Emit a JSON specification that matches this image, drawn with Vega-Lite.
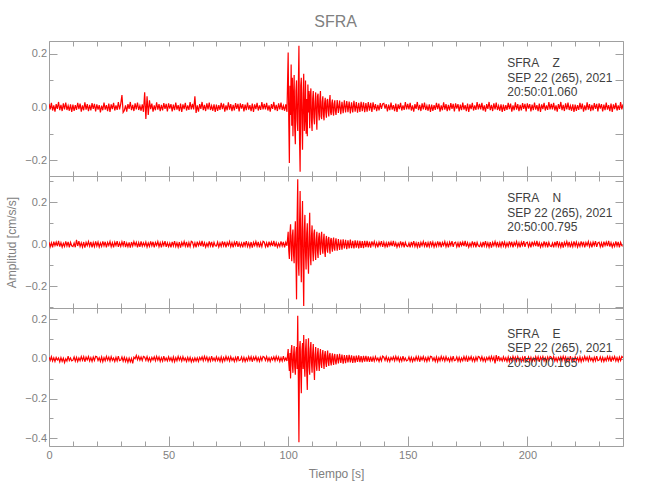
{
"$schema": "https://vega.github.io/schema/vega-lite/v6.json",
"background": "white",
"padding": {"left": 5, "top": 13, "right": 5, "bottom": 5},
"title": {"text": "SFRA", "font": "Liberation Sans", "fontSize": 16, "fontWeight": "normal", "color": "#808080", "anchor": "middle", "offset": 11, "dx": 21},
"config": {
  "view": {"stroke": null},
  "axis": {"grid": false, "domainColor": "#a0a0a0", "tickColor": "#a0a0a0", "labelColor": "#808080", "titleColor": "#808080", "labelFont": "Liberation Sans", "titleFont": "Liberation Sans", "labelFontSize": 11, "titleFontSize": 12, "titleFontWeight": "normal", "labelOverlap": false, "labelFlush": false}
},
"data": {"values": [
{"t":0,"z":0.012,"n":0.01,"e":0.009},{"t":0.5,"z":-0.009,"n":-0.012,"e":-0.007},{"t":1,"z":0.016,"n":0.007,"e":0.012},{"t":1.5,"z":-0.013,"n":-0.015,"e":-0.01},{"t":2,"z":0.006,"n":0.013,"e":0.006},{"t":2.5,"z":-0.017,"n":-0.006,"e":-0.013},{"t":3,"z":0.011,"n":0.011,"e":0.008},{"t":3.5,"z":-0.007,"n":-0.009,"e":-0.005},{"t":4,"z":0.019,"n":0.016,"e":0.005},{"t":4.5,"z":-0.012,"n":-0.011,"e":-0.015},
{"t":5,"z":0.008,"n":0.008,"e":0.007},{"t":5.5,"z":-0.015,"n":-0.013,"e":-0.012},{"t":6,"z":0.014,"n":0.005,"e":0.004},{"t":6.5,"z":-0.009,"n":-0.01,"e":-0.018},{"t":7,"z":0.017,"n":0.014,"e":0.001},{"t":7.5,"z":-0.011,"n":-0.008,"e":-0.011},{"t":8,"z":0.005,"n":0.012,"e":0.014},{"t":8.5,"z":-0.014,"n":-0.014,"e":-0.008},{"t":9,"z":0.01,"n":0.009,"e":0.005},{"t":9.5,"z":-0.018,"n":-0.007,"e":-0.01},
{"t":10,"z":0.009,"n":-0.011,"e":-0.006},{"t":10.5,"z":-0.014,"n":0.006,"e":0.01},{"t":11,"z":0.007,"n":-0.014,"e":-0.011},{"t":11.5,"z":-0.011,"n":0.021,"e":0.008},{"t":12,"z":0.016,"n":-0.008,"e":-0.013},{"t":12.5,"z":-0.008,"n":0.015,"e":0.005},{"t":13,"z":0.013,"n":-0.01,"e":-0.009},{"t":13.5,"z":-0.017,"n":0.007,"e":0.012},{"t":14,"z":0.006,"n":-0.013,"e":-0.007},{"t":14.5,"z":-0.012,"n":0.011,"e":0.011},
{"t":15,"z":0.018,"n":-0.016,"e":-0.014},{"t":15.5,"z":-0.01,"n":0.009,"e":0.009},{"t":16,"z":0.011,"n":-0.006,"e":-0.005},{"t":16.5,"z":-0.015,"n":0.013,"e":0.012},{"t":17,"z":0.008,"n":-0.009,"e":-0.01},{"t":17.5,"z":-0.013,"n":0.012,"e":0.007},{"t":18,"z":0.015,"n":-0.015,"e":-0.012},{"t":18.5,"z":-0.007,"n":0.008,"e":0.01},{"t":19,"z":0.012,"n":-0.011,"e":-0.008},{"t":19.5,"z":-0.016,"n":0.014,"e":0.013},
{"t":20,"z":0.01,"n":-0.008,"e":0.011},{"t":20.5,"z":-0.01,"n":0.011,"e":-0.008},{"t":21,"z":0.007,"n":-0.013,"e":0.006},{"t":21.5,"z":-0.02,"n":0.006,"e":-0.012},{"t":22,"z":0.005,"n":-0.01,"e":0.01},{"t":22.5,"z":-0.012,"n":0.014,"e":-0.014},{"t":23,"z":0.017,"n":-0.007,"e":0.007},{"t":23.5,"z":-0.01,"n":0.012,"e":-0.009},{"t":24,"z":0.007,"n":-0.015,"e":0.013},{"t":24.5,"z":-0.015,"n":0.009,"e":-0.006},
{"t":25,"z":0.013,"n":-0.005,"e":0.009},{"t":25.5,"z":-0.018,"n":0.013,"e":-0.011},{"t":26,"z":0.01,"n":-0.011,"e":0.012},{"t":26.5,"z":-0.008,"n":0.008,"e":-0.007},{"t":27,"z":0.016,"n":-0.014,"e":0.005},{"t":27.5,"z":-0.013,"n":0.01,"e":-0.013},{"t":28,"z":0.006,"n":-0.006,"e":0.008},{"t":28.5,"z":-0.011,"n":0.015,"e":-0.01},{"t":29,"z":0.019,"n":-0.012,"e":0.014},{"t":29.5,"z":-0.009,"n":0.007,"e":-0.009},
{"t":30,"z":0.012,"n":-0.01,"e":-0.006},{"t":30.5,"z":0.045,"n":0.012,"e":0.01},{"t":31,"z":-0.02,"n":-0.007,"e":-0.011},{"t":31.5,"z":-0.013,"n":0.015,"e":0.008},{"t":32,"z":0.006,"n":-0.013,"e":-0.013},{"t":32.5,"z":-0.017,"n":0.006,"e":0.005},{"t":33,"z":0.011,"n":-0.011,"e":-0.017},{"t":33.5,"z":-0.007,"n":0.009,"e":0.004},{"t":34,"z":0.019,"n":-0.016,"e":-0.015},{"t":34.5,"z":-0.012,"n":0.011,"e":0.003},
{"t":35,"z":0.008,"n":-0.008,"e":-0.022},{"t":35.5,"z":-0.015,"n":0.013,"e":0.009},{"t":36,"z":0.014,"n":-0.005,"e":0.001},{"t":36.5,"z":-0.009,"n":0.01,"e":0.018},{"t":37,"z":0.017,"n":-0.014,"e":-0.004},{"t":37.5,"z":-0.011,"n":0.008,"e":0.013},{"t":38,"z":0.005,"n":-0.012,"e":-0.006},{"t":38.5,"z":-0.014,"n":0.014,"e":0.01},{"t":39,"z":0.01,"n":-0.009,"e":-0.008},{"t":39.5,"z":-0.018,"n":0.007,"e":0.013},
{"t":40,"z":0.055,"n":-0.008,"e":0.009},{"t":40.5,"z":-0.045,"n":0.011,"e":-0.007},{"t":41,"z":0.04,"n":-0.013,"e":0.012},{"t":41.5,"z":-0.03,"n":0.006,"e":-0.01},{"t":42,"z":0.025,"n":-0.01,"e":0.006},{"t":42.5,"z":-0.008,"n":0.014,"e":-0.013},{"t":43,"z":0.013,"n":-0.007,"e":0.008},{"t":43.5,"z":-0.017,"n":0.012,"e":-0.005},{"t":44,"z":0.006,"n":-0.015,"e":0.011},{"t":44.5,"z":-0.012,"n":0.009,"e":-0.009},
{"t":45,"z":0.018,"n":-0.005,"e":0.013},{"t":45.5,"z":-0.01,"n":0.013,"e":-0.006},{"t":46,"z":0.011,"n":-0.011,"e":0.01},{"t":46.5,"z":-0.015,"n":0.008,"e":-0.012},{"t":47,"z":0.008,"n":-0.014,"e":0.007},{"t":47.5,"z":-0.013,"n":0.01,"e":-0.011},{"t":48,"z":0.015,"n":-0.006,"e":0.014},{"t":48.5,"z":-0.007,"n":0.015,"e":-0.008},{"t":49,"z":0.012,"n":-0.012,"e":0.005},{"t":49.5,"z":-0.016,"n":0.007,"e":-0.01},
{"t":50,"z":0.014,"n":-0.011,"e":0.011},{"t":50.5,"z":-0.006,"n":0.006,"e":-0.008},{"t":51,"z":0.011,"n":-0.014,"e":0.006},{"t":51.5,"z":-0.016,"n":0.012,"e":-0.012},{"t":52,"z":0.009,"n":-0.008,"e":0.01},{"t":52.5,"z":-0.012,"n":0.015,"e":-0.014},{"t":53,"z":0.017,"n":-0.01,"e":0.007},{"t":53.5,"z":-0.01,"n":0.007,"e":-0.009},{"t":54,"z":0.007,"n":-0.013,"e":0.013},{"t":54.5,"z":-0.015,"n":0.011,"e":-0.006},
{"t":55,"z":0.013,"n":-0.016,"e":0.009},{"t":55.5,"z":-0.018,"n":0.009,"e":-0.011},{"t":56,"z":0.01,"n":-0.006,"e":0.012},{"t":56.5,"z":-0.008,"n":0.013,"e":-0.007},{"t":57,"z":0.016,"n":-0.009,"e":0.005},{"t":57.5,"z":-0.013,"n":0.012,"e":-0.013},{"t":58,"z":0.006,"n":-0.015,"e":0.008},{"t":58.5,"z":-0.011,"n":0.008,"e":-0.01},{"t":59,"z":0.019,"n":-0.011,"e":0.008},{"t":59.5,"z":-0.009,"n":0.014,"e":-0.015},
{"t":60,"z":0.012,"n":0.01,"e":0.003},{"t":60.5,"z":-0.009,"n":-0.012,"e":-0.013},{"t":61,"z":0.04,"n":0.007,"e":0.006},{"t":61.5,"z":-0.022,"n":-0.015,"e":-0.01},{"t":62,"z":0.006,"n":0.013,"e":0.006},{"t":62.5,"z":-0.017,"n":-0.006,"e":-0.013},{"t":63,"z":0.011,"n":0.011,"e":0.008},{"t":63.5,"z":-0.007,"n":-0.009,"e":-0.005},{"t":64,"z":0.019,"n":0.016,"e":0.011},{"t":64.5,"z":-0.012,"n":-0.011,"e":-0.009},
{"t":65,"z":0.008,"n":0.008,"e":0.013},{"t":65.5,"z":-0.015,"n":-0.013,"e":-0.006},{"t":66,"z":0.014,"n":0.005,"e":0.01},{"t":66.5,"z":-0.009,"n":-0.01,"e":-0.012},{"t":67,"z":0.017,"n":0.014,"e":0.007},{"t":67.5,"z":-0.011,"n":-0.008,"e":-0.011},{"t":68,"z":0.005,"n":0.012,"e":0.014},{"t":68.5,"z":-0.014,"n":-0.014,"e":-0.008},{"t":69,"z":0.01,"n":0.009,"e":0.005},{"t":69.5,"z":-0.018,"n":-0.007,"e":-0.01},
{"t":70,"z":0.009,"n":-0.008,"e":0.011},{"t":70.5,"z":-0.014,"n":0.011,"e":-0.008},{"t":71,"z":0.007,"n":-0.013,"e":0.006},{"t":71.5,"z":-0.011,"n":0.006,"e":-0.012},{"t":72,"z":0.016,"n":-0.01,"e":0.01},{"t":72.5,"z":-0.008,"n":0.014,"e":-0.014},{"t":73,"z":0.013,"n":-0.007,"e":0.007},{"t":73.5,"z":-0.017,"n":0.012,"e":-0.009},{"t":74,"z":0.006,"n":-0.015,"e":0.013},{"t":74.5,"z":-0.012,"n":0.009,"e":-0.006},
{"t":75,"z":0.018,"n":-0.005,"e":0.009},{"t":75.5,"z":-0.01,"n":0.013,"e":-0.011},{"t":76,"z":0.011,"n":-0.011,"e":0.012},{"t":76.5,"z":-0.015,"n":0.008,"e":-0.007},{"t":77,"z":0.008,"n":-0.014,"e":0.005},{"t":77.5,"z":-0.013,"n":0.01,"e":-0.013},{"t":78,"z":0.015,"n":-0.006,"e":0.008},{"t":78.5,"z":-0.007,"n":0.015,"e":-0.01},{"t":79,"z":0.012,"n":-0.012,"e":0.014},{"t":79.5,"z":-0.016,"n":0.007,"e":-0.009},
{"t":80,"z":0.014,"n":-0.011,"e":-0.006},{"t":80.5,"z":-0.006,"n":0.006,"e":0.01},{"t":81,"z":0.011,"n":-0.014,"e":-0.011},{"t":81.5,"z":-0.016,"n":0.012,"e":0.008},{"t":82,"z":0.009,"n":-0.008,"e":-0.013},{"t":82.5,"z":-0.012,"n":0.015,"e":0.005},{"t":83,"z":0.017,"n":-0.01,"e":-0.009},{"t":83.5,"z":-0.01,"n":0.007,"e":0.012},{"t":84,"z":0.007,"n":-0.013,"e":-0.007},{"t":84.5,"z":-0.015,"n":0.011,"e":0.011},
{"t":85,"z":0.013,"n":-0.016,"e":-0.014},{"t":85.5,"z":-0.018,"n":0.009,"e":0.009},{"t":86,"z":0.01,"n":-0.006,"e":-0.005},{"t":86.5,"z":-0.008,"n":0.013,"e":0.012},{"t":87,"z":0.016,"n":-0.009,"e":-0.01},{"t":87.5,"z":-0.013,"n":0.012,"e":0.007},{"t":88,"z":0.006,"n":-0.015,"e":-0.012},{"t":88.5,"z":-0.011,"n":0.008,"e":0.01},{"t":89,"z":0.019,"n":-0.011,"e":-0.008},{"t":89.5,"z":-0.009,"n":0.014,"e":0.013},
{"t":90,"z":0.012,"n":0.01,"e":0.009},{"t":90.5,"z":-0.009,"n":-0.012,"e":-0.007},{"t":91,"z":0.016,"n":0.007,"e":0.012},{"t":91.5,"z":-0.013,"n":-0.015,"e":-0.01},{"t":92,"z":0.006,"n":0.013,"e":0.006},{"t":92.5,"z":-0.017,"n":-0.006,"e":-0.013},{"t":93,"z":0.011,"n":0.011,"e":0.008},{"t":93.5,"z":-0.007,"n":-0.009,"e":-0.005},{"t":94,"z":0.019,"n":0.016,"e":0.011},{"t":94.5,"z":-0.012,"n":-0.011,"e":-0.009},
{"t":95,"z":0.008,"n":0.008,"e":0.013},{"t":95.5,"z":-0.015,"n":-0.013,"e":-0.006},{"t":96,"z":0.014,"n":0.005,"e":0.01},{"t":96.5,"z":-0.009,"n":-0.01,"e":-0.012},{"t":97,"z":0.017,"n":0.014,"e":0.007},{"t":97.5,"z":-0.011,"n":-0.008,"e":-0.011},{"t":98,"z":0.005,"n":0.012,"e":0.014},{"t":98.5,"z":-0.014,"n":-0.014,"e":-0.008},{"t":99,"z":0.01,"n":0.009,"e":0.005},{"t":99.5,"z":-0.018,"n":-0.007,"e":-0.01},
{"t":100,"z":0.205,"n":0.06,"e":0.05},{"t":100.25,"z":-0.05,"n":-0.03,"e":-0.02},{"t":100.5,"z":-0.21,"n":-0.07,"e":-0.06},{"t":100.75,"z":0.08,"n":0.05,"e":0.03},{"t":101,"z":-0.03,"n":0.095,"e":-0.098},{"t":101.25,"z":0.16,"n":-0.02,"e":0.04},{"t":101.5,"z":-0.07,"n":-0.08,"e":0.07},{"t":101.75,"z":0.11,"n":0.04,"e":-0.03},
{"t":102,"z":-0.11,"n":0.07,"e":-0.07},{"t":102.25,"z":0.04,"n":-0.05,"e":0.02},{"t":102.5,"z":0.12,"n":-0.09,"e":0.065},{"t":102.75,"z":-0.08,"n":0.03,"e":-0.04},{"t":103,"z":-0.14,"n":0.11,"e":-0.08},{"t":103.25,"z":0.06,"n":-0.06,"e":0.03},{"t":103.5,"z":0.1,"n":-0.262,"e":0.06},{"t":103.75,"z":-0.05,"n":0.12,"e":-0.05},
{"t":104,"z":-0.09,"n":0.31,"e":0.218},{"t":104.25,"z":0.07,"n":-0.08,"e":-0.1},{"t":104.5,"z":0.23,"n":-0.15,"e":-0.42},{"t":104.75,"z":-0.12,"n":0.09,"e":0.05},{"t":105,"z":-0.243,"n":0.254,"e":0.09},{"t":105.25,"z":0.08,"n":-0.05,"e":-0.06},{"t":105.5,"z":0.11,"n":-0.18,"e":-0.173},{"t":105.75,"z":-0.06,"n":0.07,"e":0.04},
{"t":106,"z":-0.16,"n":0.206,"e":0.08},{"t":106.25,"z":0.05,"n":-0.1,"e":-0.05},{"t":106.5,"z":0.125,"n":-0.294,"e":0.121},{"t":106.75,"z":-0.09,"n":0.06,"e":-0.03},{"t":107,"z":-0.04,"n":0.14,"e":-0.09},{"t":107.25,"z":0.1,"n":-0.04,"e":0.04},{"t":107.5,"z":-0.1,"n":-0.12,"e":0.1},{"t":107.75,"z":0.03,"n":0.05,"e":-0.06},
{"t":108,"z":-0.11,"n":0.1,"e":-0.156},{"t":108.25,"z":0.085,"n":-0.07,"e":0.03},{"t":108.5,"z":-0.02,"n":-0.14,"e":0.104},{"t":108.75,"z":0.06,"n":0.03,"e":-0.04},{"t":109,"z":-0.08,"n":0.15,"e":-0.08},{"t":109.25,"z":0.04,"n":-0.05,"e":0.05},{"t":109.5,"z":0.07,"n":-0.1,"e":0.085},{"t":109.75,"z":-0.05,"n":0.04,"e":-0.02},
{"t":110,"z":-0.09,"n":0.09,"e":-0.07},{"t":110.25,"z":0.03,"n":-0.03,"e":0.03},{"t":110.5,"z":0.06,"n":-0.08,"e":0.075},{"t":110.75,"z":-0.04,"n":0.05,"e":-0.04},{"t":111,"z":-0.065,"n":0.07,"e":-0.106},{"t":111.25,"z":0.02,"n":-0.04,"e":0.02},{"t":111.5,"z":0.055,"n":-0.075,"e":0.06},{"t":111.75,"z":-0.03,"n":0.02,"e":-0.03},
{"t":112,"z":-0.085,"n":0.06,"e":-0.06},{"t":112.25,"z":0.04,"n":-0.03,"e":0.025},{"t":112.5,"z":0.05,"n":-0.065,"e":0.055},{"t":112.75,"z":-0.02,"n":0.03,"e":-0.02},{"t":113,"z":-0.05,"n":0.055,"e":-0.06},{"t":113.25,"z":0.03,"n":-0.02,"e":0.015},{"t":113.5,"z":0.06,"n":-0.05,"e":0.05},{"t":113.75,"z":-0.035,"n":0.035,"e":-0.025},
{"t":114,"z":-0.045,"n":0.06,"e":-0.045},{"t":114.25,"z":0.02,"n":-0.015,"e":0.02},{"t":114.5,"z":0.04,"n":-0.045,"e":0.045},{"t":114.75,"z":-0.03,"n":0.02,"e":-0.015},{"t":115,"z":-0.05,"n":0.05,"e":-0.05},{"t":115.25,"z":0.015,"n":-0.03,"e":0.02},{"t":115.5,"z":0.035,"n":-0.06,"e":0.04},{"t":115.75,"z":-0.02,"n":0.015,"e":-0.02},
{"t":116,"z":-0.04,"n":0.04,"e":-0.04},{"t":116.25,"z":0.025,"n":-0.02,"e":0.015},{"t":116.5,"z":0.03,"n":-0.04,"e":0.042},{"t":116.75,"z":-0.015,"n":0.025,"e":-0.012},{"t":117,"z":-0.035,"n":0.035,"e":-0.035},{"t":117.25,"z":0.02,"n":-0.015,"e":0.018},{"t":117.5,"z":0.045,"n":-0.045,"e":0.03},{"t":117.75,"z":-0.02,"n":0.02,"e":-0.015},
{"t":118,"z":-0.03,"n":0.03,"e":-0.033},{"t":118.25,"z":0.015,"n":-0.012,"e":0.01},{"t":118.5,"z":0.028,"n":-0.035,"e":0.028},{"t":118.75,"z":-0.018,"n":0.015,"e":-0.012},{"t":119,"z":-0.032,"n":0.032,"e":-0.03},{"t":119.25,"z":0.012,"n":-0.02,"e":0.012},{"t":119.5,"z":0.025,"n":-0.03,"e":0.025},{"t":119.75,"z":-0.015,"n":0.012,"e":-0.01},
{"t":120,"z":-0.03,"n":0.028,"e":-0.027},{"t":120.5,"z":0.026,"n":-0.03,"e":0.024},{"t":121,"z":-0.022,"n":0.025,"e":-0.022},{"t":121.5,"z":0.024,"n":-0.027,"e":0.026},{"t":122,"z":-0.027,"n":0.022,"e":-0.02},{"t":122.5,"z":0.02,"n":-0.026,"e":0.022},{"t":123,"z":-0.023,"n":0.024,"e":-0.024},{"t":123.5,"z":0.025,"n":-0.02,"e":0.019},{"t":124,"z":-0.02,"n":0.021,"e":-0.021},{"t":124.5,"z":0.022,"n":-0.023,"e":0.02},
{"t":125,"z":-0.019,"n":0.019,"e":-0.018},{"t":125.5,"z":0.021,"n":-0.02,"e":0.021},{"t":126,"z":-0.024,"n":0.022,"e":-0.017},{"t":126.5,"z":0.018,"n":-0.018,"e":0.018},{"t":127,"z":-0.02,"n":0.017,"e":-0.02},{"t":127.5,"z":0.023,"n":-0.02,"e":0.016},{"t":128,"z":-0.017,"n":0.019,"e":-0.018},{"t":128.5,"z":0.019,"n":-0.016,"e":0.017},{"t":129,"z":-0.021,"n":0.018,"e":-0.015},{"t":129.5,"z":0.016,"n":-0.019,"e":0.018},
{"t":130,"z":-0.018,"n":0.016,"e":-0.016},{"t":130.5,"z":0.02,"n":-0.017,"e":0.014},{"t":131,"z":-0.016,"n":0.015,"e":-0.017},{"t":131.5,"z":0.018,"n":-0.018,"e":0.015},{"t":132,"z":-0.019,"n":0.017,"e":-0.013},{"t":132.5,"z":0.015,"n":-0.014,"e":0.016},{"t":133,"z":-0.017,"n":0.016,"e":-0.014},{"t":133.5,"z":0.019,"n":-0.015,"e":0.013},{"t":134,"z":-0.014,"n":0.013,"e":-0.015},{"t":134.5,"z":0.016,"n":-0.016,"e":0.012},
{"t":135,"z":-0.018,"n":0.014,"e":-0.014},{"t":135.5,"z":0.018,"n":-0.005,"e":0.009},{"t":136,"z":-0.01,"n":0.013,"e":-0.011},{"t":136.5,"z":0.011,"n":-0.011,"e":0.012},{"t":137,"z":-0.015,"n":0.008,"e":-0.007},{"t":137.5,"z":0.008,"n":-0.014,"e":0.005},{"t":138,"z":-0.013,"n":0.01,"e":-0.013},{"t":138.5,"z":0.015,"n":-0.006,"e":0.008},{"t":139,"z":-0.007,"n":0.015,"e":-0.01},{"t":139.5,"z":0.012,"n":-0.012,"e":0.014},
{"t":140,"z":0.014,"n":0.01,"e":0.009},{"t":140.5,"z":-0.006,"n":-0.012,"e":-0.007},{"t":141,"z":0.011,"n":0.007,"e":0.012},{"t":141.5,"z":-0.016,"n":-0.015,"e":-0.01},{"t":142,"z":0.009,"n":0.013,"e":0.006},{"t":142.5,"z":-0.012,"n":-0.006,"e":-0.013},{"t":143,"z":0.017,"n":0.011,"e":0.008},{"t":143.5,"z":-0.01,"n":-0.009,"e":-0.005},{"t":144,"z":0.007,"n":0.016,"e":0.011},{"t":144.5,"z":-0.015,"n":-0.011,"e":-0.009},
{"t":145,"z":0.013,"n":0.008,"e":0.013},{"t":145.5,"z":-0.018,"n":-0.013,"e":-0.006},{"t":146,"z":0.01,"n":0.005,"e":0.01},{"t":146.5,"z":-0.008,"n":-0.01,"e":-0.012},{"t":147,"z":0.016,"n":0.014,"e":0.007},{"t":147.5,"z":-0.013,"n":-0.008,"e":-0.011},{"t":148,"z":0.006,"n":0.012,"e":0.014},{"t":148.5,"z":-0.011,"n":-0.014,"e":-0.008},{"t":149,"z":0.019,"n":0.009,"e":0.005},{"t":149.5,"z":-0.009,"n":-0.007,"e":-0.01},
{"t":150,"z":0.012,"n":-0.011,"e":-0.006},{"t":150.5,"z":-0.009,"n":0.006,"e":0.01},{"t":151,"z":0.016,"n":-0.014,"e":-0.011},{"t":151.5,"z":-0.013,"n":0.012,"e":0.008},{"t":152,"z":0.006,"n":-0.008,"e":-0.013},{"t":152.5,"z":-0.017,"n":0.015,"e":0.005},{"t":153,"z":0.011,"n":-0.01,"e":-0.009},{"t":153.5,"z":-0.007,"n":0.007,"e":0.012},{"t":154,"z":0.019,"n":-0.013,"e":-0.007},{"t":154.5,"z":-0.012,"n":0.011,"e":0.011},
{"t":155,"z":0.008,"n":-0.016,"e":-0.014},{"t":155.5,"z":-0.015,"n":0.009,"e":0.009},{"t":156,"z":0.014,"n":-0.006,"e":-0.005},{"t":156.5,"z":-0.009,"n":0.013,"e":0.012},{"t":157,"z":0.017,"n":-0.009,"e":-0.01},{"t":157.5,"z":-0.011,"n":0.012,"e":0.007},{"t":158,"z":0.005,"n":-0.015,"e":-0.012},{"t":158.5,"z":-0.014,"n":0.008,"e":0.01},{"t":159,"z":0.01,"n":-0.011,"e":-0.008},{"t":159.5,"z":-0.018,"n":0.014,"e":0.013},
{"t":160,"z":0.009,"n":-0.008,"e":0.011},{"t":160.5,"z":-0.014,"n":0.011,"e":-0.008},{"t":161,"z":0.007,"n":-0.013,"e":0.006},{"t":161.5,"z":-0.011,"n":0.006,"e":-0.012},{"t":162,"z":0.016,"n":-0.01,"e":0.01},{"t":162.5,"z":-0.008,"n":0.014,"e":-0.014},{"t":163,"z":0.013,"n":-0.007,"e":0.007},{"t":163.5,"z":-0.017,"n":0.012,"e":-0.009},{"t":164,"z":0.006,"n":-0.015,"e":0.013},{"t":164.5,"z":-0.012,"n":0.009,"e":-0.006},
{"t":165,"z":0.018,"n":-0.005,"e":0.009},{"t":165.5,"z":-0.01,"n":0.013,"e":-0.011},{"t":166,"z":0.011,"n":-0.011,"e":0.012},{"t":166.5,"z":-0.015,"n":0.008,"e":-0.007},{"t":167,"z":0.008,"n":-0.014,"e":0.005},{"t":167.5,"z":-0.013,"n":0.01,"e":-0.013},{"t":168,"z":0.015,"n":-0.006,"e":0.008},{"t":168.5,"z":-0.007,"n":0.015,"e":-0.01},{"t":169,"z":0.012,"n":-0.012,"e":0.014},{"t":169.5,"z":-0.016,"n":0.007,"e":-0.009},
{"t":170,"z":0.014,"n":0.01,"e":-0.006},{"t":170.5,"z":-0.006,"n":-0.012,"e":0.01},{"t":171,"z":0.011,"n":0.007,"e":-0.011},{"t":171.5,"z":-0.016,"n":-0.015,"e":0.008},{"t":172,"z":0.009,"n":0.013,"e":-0.013},{"t":172.5,"z":-0.012,"n":-0.006,"e":0.005},{"t":173,"z":0.017,"n":0.011,"e":-0.009},{"t":173.5,"z":-0.01,"n":-0.009,"e":0.012},{"t":174,"z":0.007,"n":0.016,"e":-0.007},{"t":174.5,"z":-0.015,"n":-0.011,"e":0.011},
{"t":175,"z":0.013,"n":0.008,"e":-0.014},{"t":175.5,"z":-0.018,"n":-0.013,"e":0.009},{"t":176,"z":0.01,"n":0.005,"e":-0.005},{"t":176.5,"z":-0.008,"n":-0.01,"e":0.012},{"t":177,"z":0.016,"n":0.014,"e":-0.01},{"t":177.5,"z":-0.013,"n":-0.008,"e":0.007},{"t":178,"z":0.006,"n":0.012,"e":-0.012},{"t":178.5,"z":-0.011,"n":-0.014,"e":0.01},{"t":179,"z":0.019,"n":0.009,"e":-0.008},{"t":179.5,"z":-0.009,"n":-0.007,"e":0.013},
{"t":180,"z":0.012,"n":-0.011,"e":0.009},{"t":180.5,"z":-0.009,"n":0.006,"e":-0.007},{"t":181,"z":0.016,"n":-0.014,"e":0.012},{"t":181.5,"z":-0.013,"n":0.012,"e":-0.01},{"t":182,"z":0.006,"n":-0.008,"e":0.006},{"t":182.5,"z":-0.017,"n":0.015,"e":-0.013},{"t":183,"z":0.011,"n":-0.01,"e":0.008},{"t":183.5,"z":-0.007,"n":0.007,"e":-0.005},{"t":184,"z":0.019,"n":-0.013,"e":0.011},{"t":184.5,"z":-0.012,"n":0.011,"e":-0.009},
{"t":185,"z":0.008,"n":-0.016,"e":0.013},{"t":185.5,"z":-0.015,"n":0.009,"e":-0.006},{"t":186,"z":0.014,"n":-0.006,"e":0.01},{"t":186.5,"z":-0.009,"n":0.013,"e":-0.022},{"t":187,"z":0.017,"n":-0.009,"e":0.02},{"t":187.5,"z":-0.011,"n":0.012,"e":-0.011},{"t":188,"z":0.005,"n":-0.015,"e":0.014},{"t":188.5,"z":-0.014,"n":0.008,"e":-0.008},{"t":189,"z":0.01,"n":-0.011,"e":0.005},{"t":189.5,"z":-0.018,"n":0.014,"e":-0.01},
{"t":190,"z":0.009,"n":-0.008,"e":0.011},{"t":190.5,"z":-0.014,"n":0.011,"e":-0.008},{"t":191,"z":0.007,"n":-0.013,"e":0.006},{"t":191.5,"z":-0.011,"n":0.006,"e":-0.012},{"t":192,"z":0.016,"n":-0.01,"e":0.01},{"t":192.5,"z":-0.008,"n":0.014,"e":-0.014},{"t":193,"z":0.013,"n":-0.007,"e":0.007},{"t":193.5,"z":-0.017,"n":0.012,"e":-0.009},{"t":194,"z":0.006,"n":-0.015,"e":0.013},{"t":194.5,"z":-0.012,"n":0.009,"e":-0.006},
{"t":195,"z":0.018,"n":-0.005,"e":0.009},{"t":195.5,"z":-0.01,"n":0.013,"e":-0.011},{"t":196,"z":0.011,"n":-0.011,"e":0.012},{"t":196.5,"z":-0.015,"n":0.008,"e":-0.007},{"t":197,"z":0.008,"n":-0.014,"e":0.005},{"t":197.5,"z":-0.013,"n":0.01,"e":-0.013},{"t":198,"z":0.015,"n":-0.006,"e":0.008},{"t":198.5,"z":-0.007,"n":0.015,"e":-0.01},{"t":199,"z":0.012,"n":-0.012,"e":0.014},{"t":199.5,"z":-0.016,"n":0.007,"e":-0.009},
{"t":200,"z":0.014,"n":0.01,"e":-0.006},{"t":200.5,"z":-0.006,"n":-0.012,"e":0.01},{"t":201,"z":0.011,"n":0.007,"e":-0.011},{"t":201.5,"z":-0.016,"n":-0.015,"e":0.008},{"t":202,"z":0.009,"n":0.013,"e":-0.013},{"t":202.5,"z":-0.012,"n":-0.006,"e":0.005},{"t":203,"z":0.017,"n":0.011,"e":-0.009},{"t":203.5,"z":-0.01,"n":-0.009,"e":0.012},{"t":204,"z":0.007,"n":0.016,"e":-0.007},{"t":204.5,"z":-0.015,"n":-0.011,"e":0.011},
{"t":205,"z":0.013,"n":0.008,"e":-0.014},{"t":205.5,"z":-0.018,"n":-0.013,"e":0.009},{"t":206,"z":0.01,"n":0.005,"e":-0.005},{"t":206.5,"z":-0.008,"n":-0.01,"e":0.012},{"t":207,"z":0.016,"n":0.014,"e":-0.01},{"t":207.5,"z":-0.013,"n":-0.008,"e":0.007},{"t":208,"z":0.006,"n":0.012,"e":-0.012},{"t":208.5,"z":-0.011,"n":-0.014,"e":0.01},{"t":209,"z":0.019,"n":0.009,"e":-0.008},{"t":209.5,"z":-0.009,"n":-0.007,"e":0.013},
{"t":210,"z":0.012,"n":-0.011,"e":0.009},{"t":210.5,"z":-0.009,"n":0.006,"e":-0.007},{"t":211,"z":0.016,"n":-0.014,"e":0.012},{"t":211.5,"z":-0.013,"n":0.012,"e":-0.01},{"t":212,"z":0.006,"n":-0.008,"e":0.006},{"t":212.5,"z":-0.017,"n":0.015,"e":-0.013},{"t":213,"z":0.011,"n":-0.01,"e":0.008},{"t":213.5,"z":-0.007,"n":0.007,"e":-0.005},{"t":214,"z":0.019,"n":-0.013,"e":0.011},{"t":214.5,"z":-0.012,"n":0.011,"e":-0.009},
{"t":215,"z":0.008,"n":-0.016,"e":0.013},{"t":215.5,"z":-0.015,"n":0.009,"e":-0.006},{"t":216,"z":0.014,"n":-0.006,"e":0.01},{"t":216.5,"z":-0.009,"n":0.013,"e":-0.012},{"t":217,"z":0.017,"n":-0.009,"e":0.007},{"t":217.5,"z":-0.011,"n":0.012,"e":-0.011},{"t":218,"z":0.005,"n":-0.015,"e":0.014},{"t":218.5,"z":-0.014,"n":0.008,"e":-0.008},{"t":219,"z":0.01,"n":-0.011,"e":0.005},{"t":219.5,"z":-0.018,"n":0.014,"e":-0.01},
{"t":220,"z":0.009,"n":-0.008,"e":0.011},{"t":220.5,"z":-0.014,"n":0.011,"e":-0.008},{"t":221,"z":0.007,"n":-0.013,"e":0.006},{"t":221.5,"z":-0.011,"n":0.006,"e":-0.012},{"t":222,"z":0.016,"n":-0.01,"e":0.01},{"t":222.5,"z":-0.008,"n":0.014,"e":-0.014},{"t":223,"z":0.013,"n":-0.007,"e":0.007},{"t":223.5,"z":-0.017,"n":0.012,"e":-0.009},{"t":224,"z":0.006,"n":-0.015,"e":0.013},{"t":224.5,"z":-0.012,"n":0.009,"e":-0.006},
{"t":225,"z":0.018,"n":-0.005,"e":0.009},{"t":225.5,"z":-0.01,"n":0.013,"e":-0.011},{"t":226,"z":0.011,"n":-0.011,"e":0.012},{"t":226.5,"z":-0.015,"n":0.008,"e":-0.007},{"t":227,"z":0.008,"n":-0.014,"e":0.005},{"t":227.5,"z":-0.013,"n":0.01,"e":-0.013},{"t":228,"z":0.015,"n":-0.006,"e":0.008},{"t":228.5,"z":-0.007,"n":0.015,"e":-0.01},{"t":229,"z":0.012,"n":-0.012,"e":0.014},{"t":229.5,"z":-0.016,"n":0.007,"e":-0.009},
{"t":230,"z":0.014,"n":0.01,"e":-0.006},{"t":230.5,"z":-0.006,"n":-0.012,"e":0.01},{"t":231,"z":0.011,"n":0.007,"e":-0.011},{"t":231.5,"z":-0.016,"n":-0.015,"e":0.008},{"t":232,"z":0.009,"n":0.013,"e":-0.013},{"t":232.5,"z":-0.012,"n":-0.006,"e":0.005},{"t":233,"z":0.017,"n":0.011,"e":-0.009},{"t":233.5,"z":-0.01,"n":-0.009,"e":0.012},{"t":234,"z":0.007,"n":0.016,"e":-0.007},{"t":234.5,"z":-0.015,"n":-0.011,"e":0.011},
{"t":235,"z":0.013,"n":0.008,"e":-0.014},{"t":235.5,"z":-0.018,"n":-0.013,"e":0.009},{"t":236,"z":0.01,"n":0.005,"e":-0.005},{"t":236.5,"z":-0.008,"n":-0.01,"e":0.012},{"t":237,"z":0.016,"n":0.014,"e":-0.01},{"t":237.5,"z":-0.013,"n":-0.008,"e":0.007},{"t":238,"z":0.006,"n":0.012,"e":-0.012},{"t":238.5,"z":-0.011,"n":-0.014,"e":0.01},{"t":239,"z":0.019,"n":0.009,"e":-0.008},{"t":239.5,"z":-0.009,"n":-0.007,"e":0.013},
{"t":240,"z":0.01,"n":-0.008,"e":0.006}
]},
"spacing": 0,
"bounds": "flush",
"vconcat": [
 {
  "width": 574, "height": 135,
  "layer": [
   {"mark": {"type": "line", "color": "#ff0000", "strokeWidth": 1.2, "clip": true},
    "encoding": {
     "x": {"field": "t", "type": "quantitative", "scale": {"domain": [0, 240], "nice": false, "zero": false},
           "axis": {"orient": "bottom", "values": [0,10,20,30,40,50,60,70,80,90,100,110,120,130,140,150,160,170,180,190,200,210,220,230,240], "labels": false, "title": null,
                    "tickSize": {"condition": {"test": "datum.value % 50 === 0", "value": -10}, "value": -5}}},
     "y": {"field": "z", "type": "quantitative", "scale": {"domain": [-0.259, 0.248], "nice": false, "zero": false},
           "axis": {"orient": "left", "values": [-0.2,-0.1,0,0.1,0.2], "title": null, "labelPadding": 10.5,
                    "labelExpr": "round(datum.value*10) % 2 === 0 ? format(datum.value, '.1f') : ''",
                    "tickSize": {"condition": {"test": "round(datum.value*10) % 2 === 0", "value": -8}, "value": -4}}}
    }},
   {"data": {"values": [{"label": "SFRA\u00a0\u00a0\u00a0\u00a0Z\nSEP 22 (265), 2021\n20:50:01.060"}]},
    "mark": {"type": "text", "align": "left", "baseline": "alphabetic", "lineBreak": "\n", "lineHeight": 14.7, "font": "Liberation Sans", "fontSize": 12, "color": "#404040"},
    "encoding": {
     "x": {"datum": 191.6, "type": "quantitative",
           "axis": {"orient": "top", "values": [0,10,20,30,40,50,60,70,80,90,100,110,120,130,140,150,160,170,180,190,200,210,220,230,240], "labels": false, "title": null, "tickSize": -5}},
     "y": {"datum": 0.15, "type": "quantitative",
           "axis": {"orient": "right", "values": [-0.2,-0.1,0,0.1,0.2], "labels": false, "title": null, "tickSize": -8}},
     "text": {"field": "label"}
    }}
  ],
  "resolve": {"axis": {"x": "independent", "y": "independent"}}
 },
 {
  "width": 574, "height": 132,
  "layer": [
   {"mark": {"type": "line", "color": "#ff0000", "strokeWidth": 1.2, "clip": true},
    "encoding": {
     "x": {"field": "t", "type": "quantitative", "scale": {"domain": [0, 240], "nice": false, "zero": false},
           "axis": {"orient": "bottom", "values": [0,10,20,30,40,50,60,70,80,90,100,110,120,130,140,150,160,170,180,190,200,210,220,230,240], "labels": false, "title": null,
                    "tickSize": {"condition": {"test": "datum.value % 50 === 0", "value": -10}, "value": -5}}},
     "y": {"field": "n", "type": "quantitative", "scale": {"domain": [-0.303, 0.325], "nice": false, "zero": false},
           "axis": {"orient": "left", "values": [-0.3,-0.2,-0.1,0,0.1,0.2,0.3], "title": "Amplitud [cm/s/s]", "titlePadding": 6, "labelPadding": 10.5,
                    "labelExpr": "round(datum.value*10) % 2 === 0 ? format(datum.value, '.1f') : ''",
                    "tickSize": {"condition": {"test": "round(datum.value*10) % 2 === 0", "value": -8}, "value": -4}}}
    }},
   {"data": {"values": [{"label": "SFRA\u00a0\u00a0\u00a0\u00a0N\nSEP 22 (265), 2021\n20:50:00.795"}]},
    "mark": {"type": "text", "align": "left", "baseline": "alphabetic", "lineBreak": "\n", "lineHeight": 14.7, "font": "Liberation Sans", "fontSize": 12, "color": "#404040"},
    "encoding": {
     "x": {"datum": 191.6, "type": "quantitative",
           "axis": {"orient": "top", "values": [0,10,20,30,40,50,60,70,80,90,100,110,120,130,140,150,160,170,180,190,200,210,220,230,240], "labels": false, "title": null, "tickSize": -5}},
     "y": {"datum": 0.201, "type": "quantitative",
           "axis": {"orient": "right", "values": [-0.3,-0.2,-0.1,0,0.1,0.2,0.3], "labels": false, "title": null, "tickSize": -8}},
     "text": {"field": "label"}
    }}
  ],
  "resolve": {"axis": {"x": "independent", "y": "independent"}}
 },
 {
  "width": 574, "height": 138,
  "layer": [
   {"mark": {"type": "line", "color": "#ff0000", "strokeWidth": 1.2, "clip": true},
    "encoding": {
     "x": {"field": "t", "type": "quantitative", "scale": {"domain": [0, 240], "nice": false, "zero": false},
           "axis": {"orient": "bottom", "values": [0,10,20,30,40,50,60,70,80,90,100,110,120,130,140,150,160,170,180,190,200,210,220,230,240], "title": "Tiempo [s]", "titlePadding": 3, "labelPadding": 13,
                    "labelExpr": "datum.value % 50 === 0 ? datum.label : ''",
                    "tickSize": {"condition": {"test": "datum.value % 50 === 0", "value": -10}, "value": -5}}},
     "y": {"field": "e", "type": "quantitative", "scale": {"domain": [-0.439, 0.257], "nice": false, "zero": false},
           "axis": {"orient": "left", "values": [-0.4,-0.3,-0.2,-0.1,0,0.1,0.2], "title": null, "labelPadding": 10.5,
                    "labelExpr": "round(datum.value*10) % 2 === 0 ? format(datum.value, '.1f') : ''",
                    "tickSize": {"condition": {"test": "round(datum.value*10) % 2 === 0", "value": -8}, "value": -4}}}
    }},
   {"data": {"values": [{"label": "SFRA\u00a0\u00a0\u00a0\u00a0E\nSEP 22 (265), 2021\n20:50:00.165"}]},
    "mark": {"type": "text", "align": "left", "baseline": "alphabetic", "lineBreak": "\n", "lineHeight": 14.7, "font": "Liberation Sans", "fontSize": 12, "color": "#404040"},
    "encoding": {
     "x": {"datum": 191.6, "type": "quantitative",
           "axis": {"orient": "top", "values": [0,10,20,30,40,50,60,70,80,90,100,110,120,130,140,150,160,170,180,190,200,210,220,230,240], "labels": false, "title": null, "tickSize": -5}},
     "y": {"datum": 0.107, "type": "quantitative",
           "axis": {"orient": "right", "values": [-0.4,-0.3,-0.2,-0.1,0,0.1,0.2], "labels": false, "title": null, "tickSize": -8}},
     "text": {"field": "label"}
    }}
  ],
  "resolve": {"axis": {"x": "independent", "y": "independent"}}
 }
]
}
